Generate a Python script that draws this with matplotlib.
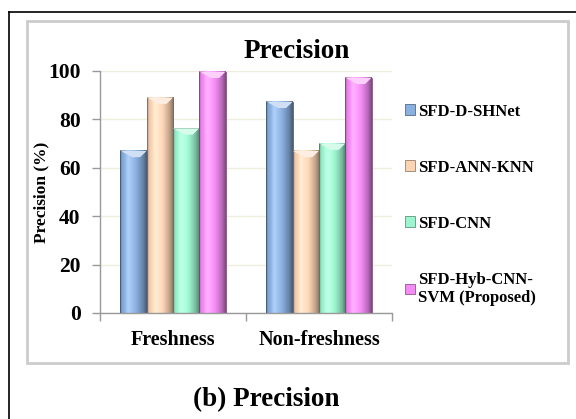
import numpy as np
import matplotlib
matplotlib.use("Agg")
import matplotlib.pyplot as plt
from matplotlib.colors import to_rgb
from matplotlib.patches import Rectangle, Polygon, Patch
from matplotlib.lines import Line2D

plt.rcParams['font.family'] = ['Liberation Serif', 'DejaVu Serif']
plt.rcParams['font.weight'] = 'bold'

categories = ['Freshness', 'Non-freshness']
methods = ['SFD-D-SHNet', 'SFD-ANN-KNN', 'SFD-CNN', 'SFD-Hyb-CNN-\nSVM (Proposed)']
precision = {
    'SFD-D-SHNet': [67.0, 87.3],
    'SFD-ANN-KNN': [89.0, 67.0],
    'SFD-CNN': [76.3, 70.0],
    'SFD-Hyb-CNN-\nSVM (Proposed)': [99.7, 97.2],
}
colors = ['#8AB0E0', '#FBD4B4', '#9CF5CE', '#F48CF4']
yticks = [0, 20, 40, 60, 80, 100]

W, H = 576, 419
fig = plt.figure(figsize=(W / 100, H / 100), dpi=100)
ax = fig.add_axes([100 / W, 1 - 313 / H, 292 / W, 242 / H])


def shaded_bar(ax, x, h, w, color):
    # cylinder-ish look: light band left of centre, dark right side
    base = np.array(to_rgb(color))
    t = np.linspace(0, 1, 60)
    shade = np.interp(t, [0, 0.08, 0.3, 0.6, 0.85, 1.0],
                      [0.70, 0.95, 1.08, 1.0, 0.76, 0.52])
    img = base[None, :] * shade[:, None]
    light = np.clip(shade - 1.0, 0, None)[:, None] * 3
    img = np.clip(img + light * (1 - base[None, :]), 0, 1)
    ax.imshow(img[None, :, :], extent=(x - w / 2, x + w / 2, 0, h),
              aspect='auto', zorder=2, interpolation='bilinear')
    ax.add_patch(Rectangle((x - w / 2, 0), w, h, fill=False,
                           edgecolor=base * 0.5, lw=0.6, zorder=3))
    cap = 2.6
    tip = np.clip(base + (1 - base) * 0.6, 0, 1)
    ax.add_patch(Polygon([(x - w / 2, h), (x + w / 2, h), (x + w * 0.25, h - cap),
                          (x - w * 0.05, h - cap)], closed=True,
                         facecolor=tip, edgecolor='none', zorder=3))


bw = 0.18
xs = np.arange(len(categories))
for i, (m, c) in enumerate(zip(methods, colors)):
    for xi, v in zip(xs, precision[m]):
        shaded_bar(ax, xi + (i - 1.5) * bw, v, bw, c)

ax.set_xlim(-0.5, 1.5)
ax.set_ylim(0, 100)
ax.set_yticks(yticks)
ax.set_yticklabels([str(v) for v in yticks], fontsize=15.5, fontweight='bold')
ax.yaxis.grid(True, color='#EEEEDD', lw=1)
ax.set_axisbelow(True)
ax.tick_params(axis='y', length=6, width=1, color='#999999', pad=8)

ax.set_xticks([-0.5, 0.5, 1.5])
ax.set_xticklabels(['', '', ''])
ax.tick_params(axis='x', which='major', length=6, width=1, color='#999999')
ax.set_xticks(xs, minor=True)
ax.set_xticklabels(categories, minor=True, fontsize=14.5, fontweight='bold')
ax.tick_params(axis='x', which='minor', length=0, pad=12)

for s in ['top', 'right']:
    ax.spines[s].set_visible(False)
for s in ['left', 'bottom']:
    ax.spines[s].set_color('#999999')
    ax.spines[s].set_linewidth(1)

ax.set_ylabel('Precision (%)', fontsize=12.5, fontweight='bold')
ax.yaxis.set_label_coords(-51 / 292, 0.5)

fig.text(297 / W, 1 - 52 / H, 'Precision', ha='center', va='center',
         fontsize=19.5, fontweight='bold')

handles = [Patch(facecolor=c, edgecolor=np.array(to_rgb(c)) * 0.6, lw=0.6) for c in colors]
fig.legend(handles, methods, loc='upper left', bbox_to_anchor=(398 / W, 1 - 97 / H),
           frameon=False, fontsize=12, handlelength=0.6, handleheight=0.6,
           handletextpad=0.2, labelspacing=2.4, borderaxespad=0)

# chart area frame and the outer page rule
fig.add_artist(Rectangle((27 / W, 1 - 363 / H), 541 / W, 342 / H, transform=fig.transFigure,
                         fill=False, edgecolor='#CCCCCC', lw=2))
fig.add_artist(Line2D([9 / W, 9 / W], [0, 1 - 12 / H], transform=fig.transFigure,
                      color='black', lw=1.2))
fig.add_artist(Line2D([9 / W, 1], [1 - 12 / H, 1 - 12 / H], transform=fig.transFigure,
                      color='black', lw=1.2))

fig.text(266 / W, 1 - 400 / H, '(b) Precision', ha='center', va='center',
         fontsize=19.5, fontweight='bold')

fig.savefig('out.png', dpi=100)
